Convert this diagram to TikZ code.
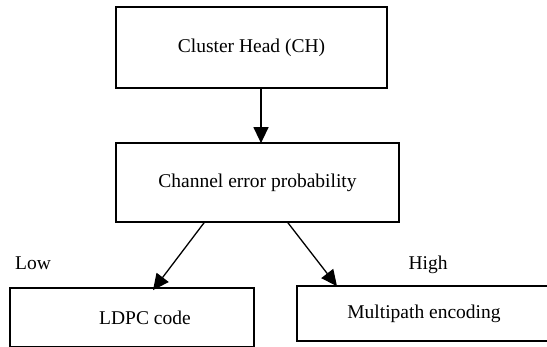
\documentclass[tikz,border=0pt]{standalone}
\usepackage{fontspec}
\setmainfont{Liberation Serif}
\usetikzlibrary{arrows.meta}
\begin{document}
\begin{tikzpicture}[x=1pt,y=-1pt,
  box/.style={draw, line width=1.7pt, inner sep=0pt, font=\fontsize{19.5}{22}\selectfont},
  lbl/.style={inner sep=0pt, font=\fontsize{19.5}{22}\selectfont},
  arr/.style={line width=1.3pt, -{Triangle[length=16pt,width=15pt]}}]
\useasboundingbox (0,0) rectangle (547,347);
\clip (0,0) rectangle (547,347);
\fill[white] (0,0) rectangle (547,347);

% flowchart boxes
\node[box, minimum width=271pt, minimum height=81pt] (ch) at (251.5,47.5) {Cluster Head (CH)};
\node[box, minimum width=283pt, minimum height=79pt] (cep) at (257.5,182.5) {Channel error probability};
\node[box, minimum width=244pt, minimum height=59pt] (ldpc) at (132,317.5) {\hspace*{26pt}LDPC code};
\node[box, minimum width=254pt, minimum height=55pt] (mp) at (424,313.5) {Multipath encoding};

% branch labels
\node[lbl] (low) at (33,263) {Low};
\node[lbl] (high) at (428,265) {High};

% x positions of the connectors
\coordinate (a1) at (261,0);
\coordinate (a2) at (204,0);
\coordinate (a3) at (153,0);
\coordinate (a4) at (288,0);
\coordinate (a5) at (337,0);

\draw[arr] (ch.south -| a1) -- ([yshift=-1pt]cep.north -| a1);
\draw[arr] (cep.south -| a2) -- ([yshift=-3pt]ldpc.north -| a3);
\draw[arr] (cep.south -| a4) -- ([yshift=-1pt]mp.north -| a5);
\end{tikzpicture}
\end{document}
